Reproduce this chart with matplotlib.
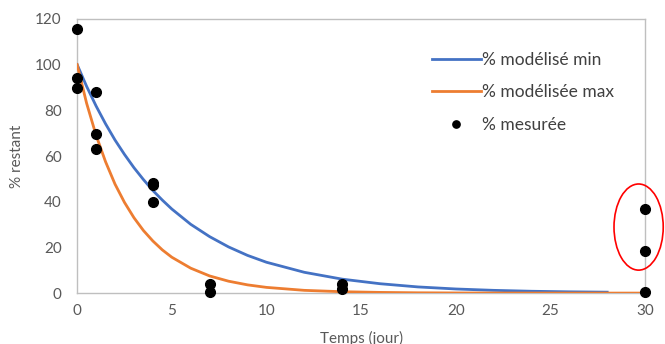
import matplotlib

matplotlib.use("Agg")
import matplotlib.pyplot as plt  # noqa: E402
from matplotlib.patches import Ellipse  # noqa: E402

# -------------------------------
# Data
# -------------------------------
x_min = [0, 0.5, 1, 1.5, 2, 2.5, 3, 3.5, 4, 4.5, 5, 6, 7, 8, 9, 10,
         12, 14, 16, 18, 20, 22, 24, 26, 28]
y_min = [100, 90.5, 81.9, 74.1, 67.0, 60.7, 54.9, 49.7, 44.9, 40.7, 36.8,
         30.1, 24.7, 20.2, 16.5, 13.5, 9.1, 6.1, 4.1, 2.7, 1.8, 1.2, 0.8,
         0.55, 0.4]

x_max = [0, 0.5, 1, 1.5, 2, 2.5, 3, 3.5, 4, 4.5, 5, 6, 7, 8, 9, 10,
         12, 14, 16, 18, 20, 22, 24, 26, 28, 30]
y_max = [100, 83.1, 69.1, 57.5, 47.7, 39.7, 33.0, 27.4, 22.8, 18.9, 15.7,
         10.9, 7.5, 5.2, 3.6, 2.5, 1.2, 0.6, 0.3, 0.13, 0.06, 0.03, 0.01,
         0.0, 0.0, 0.0]

x_meas = [0, 0, 0, 1, 1, 1, 4, 4, 4, 7, 7, 14, 14, 30, 30, 30]
y_meas = [115.6, 94.3, 89.9, 87.9, 69.5, 63.0, 48.0, 47.3, 40.0, 4.0, 0.6,
          3.8, 1.6, 36.8, 18.5, 0.3]

labels = ["% modélisé min", "% modélisée max", "% mesurée"]
x_ticks = [0, 5, 10, 15, 20, 25, 30]
y_ticks = [0, 20, 40, 60, 80, 100, 120]

plt.rcParams["font.family"] = ["Lato", "DejaVu Sans"]

fig = plt.figure(figsize=(6.65, 3.44), dpi=100)
ax = fig.add_axes([0.116, 0.148, 0.854, 0.797])

ax.plot(x_min, y_min, color="#4472C4", lw=2.0, label=labels[0], zorder=3)
ax.plot(x_max, y_max, color="#ED7D31", lw=2.0, label=labels[1], zorder=3)
ax.plot(x_meas, y_meas, "o", color="black", ms=7, label=labels[2],
        zorder=4, clip_on=False)

ax.set_xlim(0, 30)
ax.set_ylim(0, 120)
ax.set_xticks(x_ticks)
ax.set_yticks(y_ticks)
ax.tick_params(length=0, colors="#595959", labelsize=11)
ax.tick_params(axis="y", pad=11)
ax.tick_params(axis="x", pad=8)

for side in ["left", "bottom", "top", "right"]:
    ax.spines[side].set_color("#BFBFBF")
    ax.spines[side].set_linewidth(1.0)

# the x label sits at the bottom edge, partly cut off as in the original
ax.set_xlabel("Temps (jour)", color="#595959", fontsize=11, labelpad=9)
ax.set_ylabel("% restant", color="#595959", fontsize=11, labelpad=8)

# red ellipse around the day-30 points
ell = Ellipse((29.66, 28.9), width=2.6, height=37.7, fill=False,
              edgecolor="red", lw=1.2, clip_on=False, zorder=5)
ax.add_patch(ell)

ax.legend(loc="upper left", bbox_to_anchor=(0.626, 0.895),
          bbox_transform=fig.transFigure, frameon=False, fontsize=12.5,
          handlelength=2.8, labelspacing=0.95, handletextpad=0.1,
          markerscale=0.75, labelcolor="#404040")

fig.savefig("out.png", dpi=100)
